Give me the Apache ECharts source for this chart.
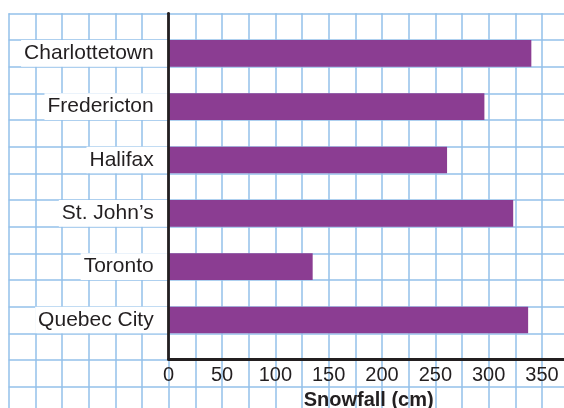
<!DOCTYPE html>
<html>
<head>
<meta charset="utf-8">
<script src="https://cdn.jsdelivr.net/npm/echarts@6/dist/echarts.min.js"></script>
<style>
  html, body { margin: 0; padding: 0; background: #ffffff; }
  #chart { width: 564px; height: 408px; }
</style>
</head>
<body>
<div id="chart"></div>
<script>
// Average annual snowfall by city
const cities = ['Charlottetown', 'Fredericton', 'Halifax', 'St. John\u2019s', 'Toronto', 'Quebec City'];
const snowfall = [340, 296, 261, 323, 135, 337];
const xTicks = [0, 50, 100, 150, 200, 250, 300, 350];

const ink = '#231f20';
const paper = '#93c1ea';
const font = '"Liberation Sans", Arial, Helvetica, sans-serif';

const chart = echarts.init(document.getElementById('chart'), null, { renderer: 'canvas' });

// One graph-paper square = 25 cm of snowfall
const cell = 80 / 3;
const originX = 168.67;

chart.setOption({
  animation: false,
  backgroundColor: '#ffffff',
  grid: [
    // graph-paper background
    { left: originX - cell * 6, top: cell / 2, width: cell * 21, height: cell * 15, outerBoundsMode: 'none', containLabel: false },
    // bars
    { left: originX, top: cell, width: cell * 14, height: cell * 12, outerBoundsMode: 'none', containLabel: false },
    // axis frame with tick labels
    { left: originX, top: cell / 2, width: cell * 15, height: cell * 13 - 0.6, outerBoundsMode: 'none', containLabel: false }
  ],
  xAxis: [
    {
      gridIndex: 0, type: 'value', min: -150, max: 375, interval: 25,
      axisLine: { show: false }, axisTick: { show: false }, axisLabel: { show: false },
      splitLine: { show: true, lineStyle: { color: paper, width: 1.5 } }
    },
    {
      gridIndex: 1, type: 'value', min: 0, max: 350, show: false
    },
    {
      gridIndex: 2, type: 'value', min: 0, max: 375, interval: 50,
      axisLine: { show: true, onZero: false, lineStyle: { color: ink, width: 2.8 } },
      axisTick: { show: false },
      splitLine: { show: false },
      axisLabel: {
        show: true, margin: 6, fontSize: 20, color: ink, fontFamily: font,
        showMaxLabel: false,
        formatter: v => (xTicks.indexOf(v) >= 0 ? String(v) : '')
      },
      name: 'Snowfall (cm)', nameLocation: 'middle', nameGap: 29,
      nameTextStyle: { fontSize: 20, fontWeight: 'bold', color: ink, fontFamily: font }
    }
  ],
  yAxis: [
    {
      gridIndex: 0, type: 'value', min: 0, max: 15, interval: 1, inverse: true,
      axisLine: { show: false }, axisTick: { show: false }, axisLabel: { show: false },
      splitLine: { show: true, lineStyle: { color: paper, width: 1.5 } }
    },
    {
      gridIndex: 1, type: 'category', data: cities, inverse: true, z: 5,
      axisLine: { show: false }, axisTick: { show: false }, splitLine: { show: false },
      axisLabel: {
        margin: 0, fontSize: 21, color: ink, fontFamily: font,
        backgroundColor: '#ffffff', lineHeight: cell, padding: [0, 15, 0, 3]
      }
    },
    {
      gridIndex: 2, type: 'value', min: 0, max: 1, z: 6,
      axisLine: { show: true, onZero: false, lineStyle: { color: ink, width: 2.8 } },
      axisTick: { show: false }, axisLabel: { show: false }, splitLine: { show: false }
    }
  ],
  series: [
    {
      type: 'bar', xAxisIndex: 1, yAxisIndex: 1, data: snowfall,
      barWidth: cell, itemStyle: { color: '#8b3d92' }, z: 3
    }
  ]
});
</script>
</body>
</html>
